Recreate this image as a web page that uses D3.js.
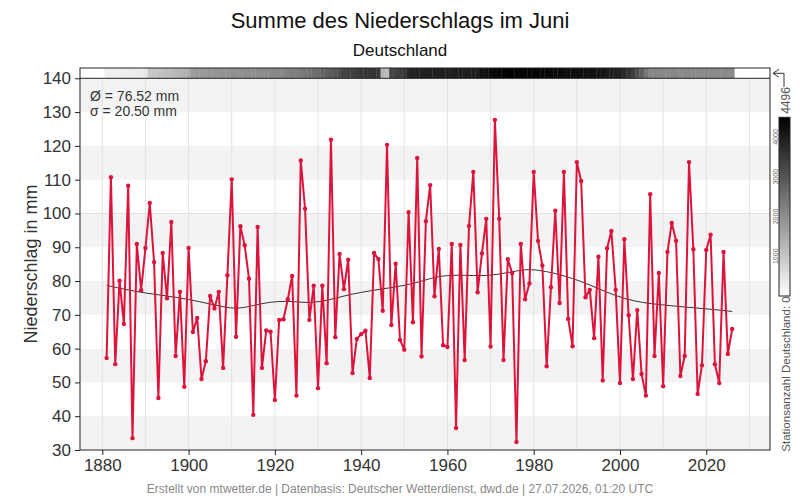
<!DOCTYPE html>
<html lang="de">
<head>
<meta charset="UTF-8">
<title>Summe des Niederschlags im Juni</title>
<script src="https://cdn.jsdelivr.net/npm/d3@7"></script>
<style>
  body { margin: 0; background: #fff; font-family: "Liberation Sans", Arial, Helvetica, sans-serif; }
  svg text { font-family: "Liberation Sans", Arial, Helvetica, sans-serif; }
</style>
</head>
<body>
<div id="chart"></div>
<script>
// June precipitation, Germany (mm), 1881..2026
var firstYear = 1881;
var precip = [
  57.2, 110.7, 55.4, 80.1, 67.3, 108.2, 33.5, 91.0, 77.3, 89.8,   // 1881-1890
  103.1, 85.6, 45.4, 88.3, 74.9, 97.5, 57.8, 76.8, 48.7, 89.8,    // 1891-1900
  64.9, 69.1, 51.0, 56.3, 75.6, 71.9, 76.8, 54.3, 81.7, 110.1,    // 1901-1910
  63.5, 96.2, 90.6, 80.7, 40.4, 96.0, 54.3, 65.4, 65.0, 44.8,     // 1911-1920
  68.5, 68.7, 74.6, 81.5, 46.1, 115.7, 101.4, 68.5, 78.6, 48.3,   // 1921-1930
  78.6, 55.7, 121.8, 63.4, 88.0, 77.6, 86.3, 52.8, 62.9, 64.3,    // 1931-1940
  65.3, 51.3, 88.3, 86.5, 71.2, 120.3, 67.0, 85.1, 62.6, 59.7,    // 1941-1950
  100.4, 67.8, 116.4, 57.7, 97.7, 108.4, 75.5, 89.5, 61.0, 60.5,  // 1951-1960
  91.0, 36.5, 90.7, 56.6, 96.3, 112.3, 76.7, 88.2, 98.4, 60.6,    // 1961-1970
  127.7, 98.4, 56.6, 86.5, 82.3, 32.4, 91.0, 74.6, 79.3, 112.3,   // 1971-1980
  91.9, 84.6, 54.8, 78.2, 100.8, 73.5, 112.3, 68.8, 60.7, 115.2,  // 1981-1990
  109.6, 75.2, 77.4, 63.1, 87.2, 50.6, 89.7, 94.8, 77.4, 49.8,    // 1991-2000
  92.4, 69.9, 51.0, 71.4, 52.5, 46.1, 105.7, 57.8, 82.4, 48.9,    // 2001-2010
  88.6, 97.2, 91.9, 51.9, 57.8, 115.2, 89.4, 46.6, 55.1, 89.2,    // 2011-2020
  93.7, 55.4, 49.8, 88.6, 58.4, 65.8                              // 2021-2026
];

// number of stations per year (grey strip on top), estimated
var stations = [
  240, 250, 260, 270, 280, 300, 310, 330, 360, 400,
  950, 1000, 1050, 1100, 1150, 1200, 1250, 1300, 1350, 1450,
  1750, 1780, 1800, 1820, 1850, 1870, 1900, 1920, 1940, 1950,
  1960, 1970, 1980, 1990, 2000, 2000, 2020, 2040, 2060, 2080,
  2100, 2150, 2200, 2250, 2300, 2350, 2400, 2450, 2500, 2550,
  2700, 2800, 2900, 3000, 3100, 3300, 3350, 3400, 3450, 3500,
  3550, 3550, 3600, 3500, 1300, 1150, 3300, 3350, 3400, 3500,
  3850, 3900, 3920, 3940, 3950, 3950, 3950, 3950, 3950, 3960,
  3960, 3970, 3970, 3980, 3980, 3990, 4000, 4200, 4250, 4300,
  4350, 4400, 4450, 4450, 4496, 4480, 4450, 4450, 4420, 4400,
  4400, 4380, 4350, 4350, 4300, 4300, 4250, 4250, 4250, 4250,
  4250, 4250, 4200, 4200, 4150, 4100, 4050, 4000, 3950, 3900,
  3800, 3600, 3400, 3100, 2800, 2400, 2150, 2120, 2100, 2100,
  2100, 2100, 2100, 2080, 2080, 2080, 2080, 2070, 2070, 2060,
  2060, 2050, 2050, 2050, 2050, 2040
];
var stationMax = 4496;

// smoothed trend, read at a few years
var trendYears  = [1881, 1885, 1890, 1895, 1900, 1905, 1910, 1913, 1917, 1921, 1925, 1928, 1932, 1936, 1940, 1945, 1950, 1955, 1958, 1962, 1966, 1970, 1974, 1978, 1981, 1985, 1989, 1993, 1997, 2001, 2005, 2010, 2015, 2020, 2026];
var trendValues = [78.7, 77.6, 76.4, 75.6, 74.6, 73.2, 71.8, 72.1, 73.4, 74.1, 73.9, 73.5, 74.2, 75.6, 76.7, 77.7, 78.6, 80.3, 81.5, 81.8, 81.6, 81.6, 82.5, 83.5, 83.3, 82.3, 80.8, 78.9, 76.6, 74.8, 73.6, 72.9, 72.3, 71.8, 71.0];

var yTicks = [30, 40, 50, 60, 70, 80, 90, 100, 110, 120, 130, 140];
var xTicks = [1880, 1900, 1920, 1940, 1960, 1980, 2000, 2020];
var xGrid = [1880, 1890, 1900, 1910, 1920, 1930, 1940, 1950, 1960, 1970, 1980, 1990, 2000, 2010, 2020, 2030];
var cbTicks = [1000, 2000, 3000, 4000];

var data = precip.map(function(v, i) { return {year: firstYear + i, value: v, n: stations[i]}; });
var trend = trendYears.map(function(yr, i) { return {year: yr, value: trendValues[i]}; });

var W = 800, H = 500;
var pL = 80, pR = 770, pT = 68, stripB = 78.3, pB = 450;

var svg = d3.select("#chart").append("svg")
  .attr("width", W).attr("height", H);

var x = d3.scaleLinear().domain([1874.83, 2034.77]).range([pL, pR]);
var y = d3.scaleLinear().domain([30, 140]).range([pB, stripB]);
var grey = d3.scaleLinear().domain([0, stationMax]).range(["#ffffff", "#000000"]);

// alternating bands
svg.append("g").selectAll("rect")
  .data(yTicks.slice(0, -1))
  .enter().append("rect")
    .attr("x", pL).attr("width", pR - pL)
    .attr("y", function(d) { return y(d + 10); })
    .attr("height", function(d) { return y(d) - y(d + 10); })
    .attr("fill", function(d) { return (d / 10) % 2 === 1 ? "#f3f3f3" : "#ffffff"; });

// vertical grid
svg.append("g").selectAll("line")
  .data(xGrid)
  .enter().append("line")
    .attr("x1", function(d) { return x(d); }).attr("x2", function(d) { return x(d); })
    .attr("y1", stripB).attr("y2", pB)
    .attr("stroke", "#e3e3e3").attr("stroke-width", 1);

svg.append("line")
  .attr("x1", pL).attr("x2", pR)
  .attr("y1", y(100)).attr("y2", y(100))
  .attr("stroke", "#e0e0e0").attr("stroke-width", 1);

// station strip
svg.append("g").selectAll("rect")
  .data(data)
  .enter().append("rect")
    .attr("x", function(d) { return x(d.year - 0.5); })
    .attr("width", function(d) { return x(d.year + 0.5) - x(d.year - 0.5) + 0.3; })
    .attr("y", pT).attr("height", stripB - pT)
    .attr("fill", function(d) { return grey(d.n); });

// trend
svg.append("path")
  .datum(trend)
  .attr("fill", "none").attr("stroke", "#333").attr("stroke-width", 1)
  .attr("d", d3.line().curve(d3.curveBasis)
    .x(function(d) { return x(d.year); })
    .y(function(d) { return y(d.value); }));

// data line + points
svg.append("path")
  .datum(data)
  .attr("fill", "none").attr("stroke", "#dc143c").attr("stroke-width", 2)
  .attr("stroke-linejoin", "round")
  .attr("d", d3.line()
    .x(function(d) { return x(d.year); })
    .y(function(d) { return y(d.value); }));

svg.append("g").selectAll("circle")
  .data(data)
  .enter().append("circle")
    .attr("cx", function(d) { return x(d.year); })
    .attr("cy", function(d) { return y(d.value); })
    .attr("r", 2.2)
    .attr("fill", "#dc143c");

// frame
svg.append("rect")
  .attr("x", pL).attr("y", pT)
  .attr("width", pR - pL).attr("height", pB - pT)
  .attr("fill", "none").attr("stroke", "#222").attr("stroke-width", 1);
svg.append("line")
  .attr("x1", pL).attr("x2", pR)
  .attr("y1", stripB).attr("y2", stripB)
  .attr("stroke", "#222").attr("stroke-width", 1);

// axes
var yAxis = svg.append("g")
  .attr("transform", "translate(" + pL + ",0)")
  .call(d3.axisLeft(y).tickValues(yTicks).tickSize(5).tickPadding(4));
var xAxis = svg.append("g")
  .attr("transform", "translate(0," + pB + ")")
  .call(d3.axisBottom(x).tickValues(xTicks).tickFormat(d3.format("d")).tickSize(5).tickPadding(4));
[yAxis, xAxis].forEach(function(a) {
  a.select(".domain").remove();
  a.selectAll("line").attr("stroke", "#222");
  a.selectAll("text").attr("font-size", "17px").attr("fill", "#333");
});

// titles
svg.append("text")
  .attr("x", 400).attr("y", 28).attr("text-anchor", "middle")
  .attr("font-size", "22px").attr("fill", "#111")
  .text("Summe des Niederschlags im Juni");
svg.append("text")
  .attr("x", 400).attr("y", 56).attr("text-anchor", "middle")
  .attr("font-size", "17px").attr("fill", "#111")
  .text("Deutschland");
svg.append("text")
  .attr("transform", "translate(37,264) rotate(-90)")
  .attr("text-anchor", "middle")
  .attr("font-size", "18px").attr("fill", "#333")
  .text("Niederschlag in mm");

// stats
svg.append("text").attr("x", 90).attr("y", 101)
  .attr("font-size", "14px").attr("fill", "#333").text("Ø = 76.52 mm");
svg.append("text").attr("x", 90).attr("y", 116)
  .attr("font-size", "14px").attr("fill", "#333").text("σ = 20.50 mm");

// colour bar
var defs = svg.append("defs");
var grad = defs.append("linearGradient").attr("id", "cbgrad")
  .attr("x1", "0").attr("y1", "1").attr("x2", "0").attr("y2", "0");
grad.append("stop").attr("offset", "0%").attr("stop-color", "#ffffff");
grad.append("stop").attr("offset", "100%").attr("stop-color", "#000000");

var cb = d3.scaleLinear().domain([0, stationMax]).range([296, 117.3]);
svg.append("rect")
  .attr("x", 779).attr("y", cb(stationMax))
  .attr("width", 11).attr("height", cb(0) - cb(stationMax))
  .attr("fill", "url(#cbgrad)").attr("stroke", "#222").attr("stroke-width", 1);
svg.append("g").selectAll("text")
  .data(cbTicks)
  .enter().append("text")
    .attr("transform", function(d) { return "translate(777.5," + cb(d) + ") rotate(-90)"; })
    .attr("text-anchor", "middle")
    .attr("font-size", "7px").attr("fill", "#666")
    .text(function(d) { return d; });
svg.append("text")
  .attr("transform", "translate(789.5,100.5) rotate(-90)")
  .attr("text-anchor", "middle")
  .attr("font-size", "12px").attr("fill", "#555")
  .text(stationMax);
svg.append("text")
  .attr("transform", "translate(789.5,374) rotate(-90)")
  .attr("text-anchor", "middle")
  .attr("font-size", "11.5px").attr("fill", "#555")
  .text("Stationsanzahl Deutschland: 0");
svg.append("path")
  .attr("d", "M784,87V73.3H773M779,69.3L773,73.3L779,77.3")
  .attr("fill", "none").attr("stroke", "#333").attr("stroke-width", 1);

// footer
svg.append("text")
  .attr("x", 400).attr("y", 493).attr("text-anchor", "middle")
  .attr("font-size", "12px").attr("fill", "#888")
  .text("Erstellt von mtwetter.de | Datenbasis: Deutscher Wetterdienst, dwd.de | 27.07.2026, 01:20 UTC");
</script>
</body>
</html>
